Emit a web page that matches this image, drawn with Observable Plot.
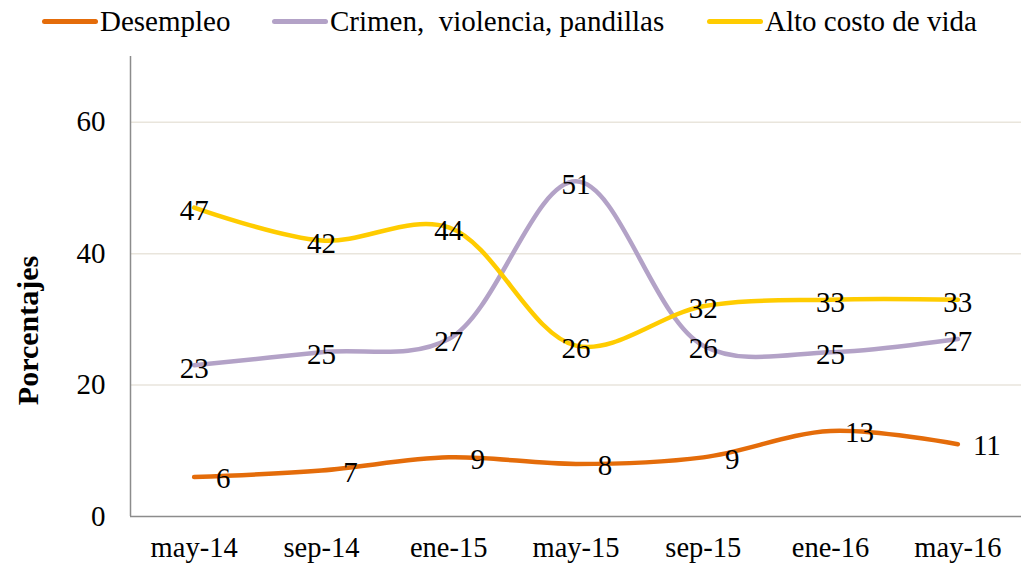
<!DOCTYPE html>
<html>
<head>
<meta charset="utf-8">
<script src="https://cdn.jsdelivr.net/npm/d3@7"></script>
<script src="https://cdn.jsdelivr.net/npm/@observablehq/plot@0.6"></script>
<style>
  html, body { margin: 0; padding: 0; background: #fff; }
  body { width: 1023px; height: 566px; overflow: hidden; font-family: "Liberation Serif", "Times New Roman", serif; }
  #legend { height: 45px; position: relative; font-size: 29px; color: #000; }
  .item { position: absolute; top: 5px; display: flex; align-items: center; white-space: pre; }
  .sw { width: 56px; height: 5px; border-radius: 3px; margin-right: 2px; }
  svg { display: block; }
</style>
</head>
<body>
<div id="legend"></div>
<div id="chart"></div>
<script>
const categories = ["may-14", "sep-14", "ene-15", "may-15", "sep-15", "ene-16", "may-16"];
const seriesNames = ["Desempleo", "Crimen,  violencia, pandillas", "Alto costo de vida"];
const desempleo = [6, 7, 9, 8, 9, 13, 11];
const crimen = [23, 25, 27, 51, 26, 25, 27];
const altoCosto = [47, 42, 44, 26, 32, 33, 33];
const yTicks = [0, 20, 40, 60];

const colors = ["#e46c0a", "#b3a2c7", "#ffcc00"];
const seriesValues = [desempleo, crimen, altoCosto];

const data = [];
seriesValues.forEach((vals, s) => vals.forEach((v, i) => data.push({series: seriesNames[s], i, value: v})));

// legend
const legendLeft = [42, 272, 707];
const legend = document.getElementById("legend");
seriesNames.forEach((name, s) => {
  const it = document.createElement("div");
  it.className = "item";
  it.style.left = legendLeft[s] + "px";
  it.innerHTML = `<div class="sw" style="background:${colors[s]}"></div><span>${name}</span>`;
  legend.appendChild(it);
});

const font = "'Liberation Serif', 'Times New Roman', serif";
const chart = Plot.plot({
  width: 1023,
  height: 521,
  marginLeft: 130,
  marginRight: 2,
  marginTop: 11,
  marginBottom: 50,
  style: {fontFamily: font, fontSize: "29px", color: "#000", background: "#fff"},
  x: {domain: [-0.5, categories.length - 0.5], axis: null},
  y: {domain: [0, 70], axis: null},
  color: {domain: seriesNames, range: colors},
  marks: [
    Plot.gridY([20, 40, 60], {stroke: "#e9e5dc", strokeOpacity: 1, strokeWidth: 1.5}),
    Plot.ruleY([0], {stroke: "#8c8c8c", strokeWidth: 1.5}),
    Plot.ruleX([-0.5], {stroke: "#8c8c8c", strokeWidth: 1.5}),
    Plot.axisY(yTicks, {tickSize: 0, tickPadding: 25, fontSize: 29, label: null}),
    Plot.axisX(d3.range(categories.length), {tickSize: 0, tickPadding: 20, fontSize: 28.5, tickFormat: i => categories[i], label: null}),
    Plot.text(["Porcentajes"], {frameAnchor: "left", textAnchor: "middle", dx: -102, dy: 44, rotate: -90, fontWeight: "bold", fontSize: 30}),
    Plot.line(data, {x: "i", y: "value", z: "series", stroke: "series", strokeWidth: 4.5, curve: "catmull-rom", strokeLinecap: "round"}),
    Plot.text(data.filter(d => d.series !== seriesNames[0]), {x: "i", y: "value", text: d => String(d.value), dy: 3, fontSize: 29, fill: "#000"}),
    Plot.text(data.filter(d => d.series === seriesNames[0]), {x: "i", y: "value", text: d => String(d.value), dx: 29, dy: 2, fontSize: 29, fill: "#000"})
  ]
});
document.getElementById("chart").appendChild(chart);
</script>
</body>
</html>
